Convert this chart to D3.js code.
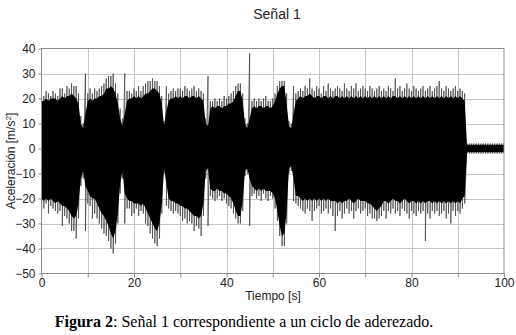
<!DOCTYPE html>
<html><head><meta charset="utf-8">
<script src="https://cdn.jsdelivr.net/npm/d3@7"></script>
<style>
html,body{margin:0;padding:0;background:#fff;}
svg{display:block;}
</style></head>
<body>
<svg id="chart" width="516" height="335"></svg>
<script>
const sampleStep = 0.5;
const coreHi = [
 19,19,20,19,20,20,20,19,20,21, 20,21,21,22,21,20,18,10,8,14,
 19,20,19,20,20,21,21,22,24,24, 25,24,22,18,12,9,14,19,20,20,
 21,20,21,20,21,22,22,23,24,24, 23,22,18,9,15,19,20,20,21,20,
 21,20,21,21,20,21,21,20,21,20, 19,10,9,16,17,16,17,17,16,17,
 17,18,18,19,21,23,23,19,10,8, 12,16,17,16,17,17,16,17,17,16,
 17,19,22,24,25,25,18,9,8,14, 19,20,21,20,21,21,22,21,20,21,
 21,20,21,21,20,21,20,21,21,20, 21,20,21,20,21,20,21,20,21,20,
 21,20,21,20,21,20,21,20,21,20, 21,20,21,21,20,21,20,21,20,21,
 20,21,20,21,20,21,20,21,20,21, 20,21,20,21,20,21,20,21,20,21,
 20,21,20,19,1.5,1.5,1.5,1.5,1.5,1.5, 1.5,1.5,1.5,1.5,1.5,1.5,1.5,1.5,1.5,1.5,
 1.5
];
const peakHi = [
 23,21,23,22,21,23,22,21,24,24, 22,25,24,26,25,25,22,13,10,30,
 22,24,22,24,23,24,25,26,28,29, 29,30,26,22,16,12,30,23,23,22,
 24,23,25,23,25,26,27,27,28,27, 27,25,21,11,25,22,23,24,23,24,
 24,23,25,24,23,24,25,23,24,23, 22,12,29,19,19,20,19,20,19,21,
 20,21,22,23,25,26,26,22,12,10, 38,19,20,19,20,19,20,21,19,19,
 20,22,25,27,27,27,22,11,10,25, 22,23,24,23,25,24,28,24,23,25,
 24,22,25,23,26,24,23,24,25,24, 23,26,24,23,25,24,26,23,24,25,
 24,23,25,24,23,24,25,23,24,23, 25,24,23,28,24,25,23,24,26,24,
 23,25,24,23,24,25,23,24,25,23, 24,25,27,24,23,25,24,23,24,25,
 23,24,23,22,2,2,2,2,2,2, 2,2,2,2,2,2,2,2,2,2,
 2
];
const coreLo = [
 -20,-21,-20,-21,-20,-21,-22,-21,-22,-23, -23,-24,-25,-27,-28,-27,-22,-12,-9,-15,
 -17,-19,-20,-20,-22,-24,-26,-27,-29,-31, -34,-36,-33,-26,-14,-9,-18,-20,-21,-21,
 -22,-22,-22,-23,-22,-24,-26,-28,-30,-32, -33,-30,-22,-8,-14,-20,-21,-21,-22,-22,
 -23,-23,-24,-24,-25,-26,-27,-27,-28,-27, -22,-9,-8,-16,-17,-17,-16,-17,-17,-18,
 -18,-19,-20,-22,-25,-27,-27,-21,-9,-8, -12,-15,-16,-17,-16,-17,-16,-17,-17,-17,
 -18,-20,-25,-31,-35,-34,-25,-8,-7,-12, -19,-19,-20,-21,-20,-21,-20,-21,-20,-21,
 -20,-21,-20,-21,-20,-21,-21,-21,-22,-21, -22,-21,-21,-20,-21,-22,-21,-20,-21,-21,
 -21,-22,-22,-23,-24,-25,-24,-23,-21,-21, -22,-21,-20,-21,-21,-22,-21,-20,-21,-22,
 -21,-21,-22,-21,-22,-21,-22,-21,-21,-22, -21,-22,-21,-22,-21,-22,-21,-22,-21,-22,
 -21,-22,-20,-19,-1.5,-1.5,-1.5,-1.5,-1.5,-1.5, -1.5,-1.5,-1.5,-1.5,-1.5,-1.5,-1.5,-1.5,-1.5,-1.5,
 -1.5
];
const peakLo = [
 -27,-24,-22,-26,-23,-24,-25,-26,-25,-31, -27,-28,-30,-33,-33,-36,-28,-15,-12,-33,
 -22,-23,-28,-26,-28,-30,-32,-34,-35,-37, -40,-42,-38,-30,-18,-12,-30,-24,-24,-27,
 -26,-24,-27,-25,-26,-30,-31,-34,-36,-38, -39,-36,-26,-10,-23,-24,-25,-26,-25,-26,
 -27,-29,-28,-30,-29,-30,-33,-31,-32,-35, -27,-12,-31,-19,-20,-21,-20,-19,-21,-20,
 -22,-23,-24,-26,-28,-30,-30,-25,-11,-10, -31,-19,-18,-20,-19,-21,-18,-20,-21,-19,
 -20,-24,-29,-35,-39,-39,-30,-10,-9,-21, -22,-23,-24,-25,-26,-24,-25,-29,-25,-24,
 -23,-26,-25,-24,-26,-24,-27,-33,-27,-25, -28,-26,-24,-26,-25,-28,-25,-24,-26,-25,
 -24,-27,-26,-28,-28,-29,-28,-27,-25,-28, -25,-26,-24,-26,-25,-27,-24,-25,-26,-28,
 -25,-26,-27,-25,-26,-25,-37,-26,-28,-25, -26,-25,-27,-26,-25,-28,-26,-30,-25,-27,
 -25,-26,-24,-22,-2,-2,-2,-2,-2,-2, -2,-2,-2,-2,-2,-2,-2,-2,-2,-2,
 -2
];
const xTicks = [0,10,20,30,40,50,60,70,80,90,100];
const xTickLabels = [0,20,40,60,80,100];
const yTicks = [40,30,20,10,0,-10,-20,-30,-40,-50];
const titleText = "Señal 1";
const xLabel = "Tiempo [s]";
const yLabel = "Aceleración [m/s";
const captionBold = "Figura 2";
const captionRest = ": Señal 1 correspondiente a un ciclo de aderezado.";

const samples = coreHi.map((h, i) => ({
  t: i * sampleStep, hi: h, lo: coreLo[i], pHi: peakHi[i], pLo: peakLo[i]
}));

// ---- layout ----
const svg = d3.select("#chart");
const m = {l: 41.5, r: 504, t: 48.5, b: 273.5};
const x = d3.scaleLinear().domain([0, 100]).range([m.l, m.r]);
const y = d3.scaleLinear().domain([-50, 40]).range([m.b, m.t]);

svg.append("defs").append("clipPath").attr("id", "clip")
  .append("rect").attr("x", m.l).attr("y", m.t).attr("width", m.r - m.l).attr("height", m.b - m.t);

// grid
const grid = svg.append("g");
grid.selectAll("line.v").data(xTicks.slice(1, -1)).join("line")
  .attr("x1", d => Math.round(x(d)) + 0.5).attr("x2", d => Math.round(x(d)) + 0.5)
  .attr("y1", m.t).attr("y2", m.b).attr("stroke", "#c4c4c4").attr("stroke-width", 1);
grid.selectAll("line.h").data(yTicks.slice(1, -1)).join("line")
  .attr("y1", d => Math.round(y(d)) + 0.5).attr("y2", d => Math.round(y(d)) + 0.5)
  .attr("x1", m.l).attr("x2", m.r).attr("stroke", "#c4c4c4").attr("stroke-width", 1);

// signal
const sig = svg.append("g").attr("clip-path", "url(#clip)");
const zig = [];
samples.forEach(s => { zig.push([s.t, s.pHi]); zig.push([s.t, s.pLo]); });
sig.append("path")
  .attr("d", d3.line().x(d => x(d[0])).y(d => y(d[1]))(zig))
  .attr("fill", "none").attr("stroke", "#444").attr("stroke-width", 0.75);
sig.append("path")
  .attr("d", d3.area().x(d => x(d.t)).y0(d => y(d.lo)).y1(d => y(d.hi))(samples))
  .attr("fill", "#000");

// frame
svg.append("rect").attr("x", m.l).attr("y", m.t).attr("width", m.r - m.l).attr("height", m.b - m.t)
  .attr("fill", "none").attr("stroke", "#8c8c8c").attr("stroke-width", 1);

// axes
const fontSans = "Arial, 'Liberation Sans', sans-serif";
const yAxis = svg.append("g").attr("transform", `translate(${m.l},0)`)
  .call(d3.axisLeft(y).tickValues(yTicks).tickSize(3).tickPadding(3).tickFormat(d3.format("d")));
const xAxis = svg.append("g").attr("transform", `translate(0,${m.b})`)
  .call(d3.axisBottom(x).tickValues(xTicks).tickSize(4).tickPadding(1)
    .tickFormat(d => xTickLabels.includes(d) ? d : ""));
[xAxis, yAxis].forEach(a => {
  a.select(".domain").remove();
  a.selectAll(".tick line").attr("stroke", "#8c8c8c");
  a.selectAll("text").attr("fill", "#222").style("font-family", fontSans).style("font-size", "12px");
});

// titles
svg.append("text").attr("x", 277).attr("y", 19).attr("text-anchor", "middle")
  .style("font-family", fontSans).style("font-size", "14px").attr("fill", "#222").text(titleText);
svg.append("text").attr("x", 273).attr("y", 300).attr("text-anchor", "middle")
  .style("font-family", fontSans).style("font-size", "12px").attr("fill", "#222").text(xLabel);
const yl = svg.append("text").attr("transform", "translate(15,161) rotate(-90)").attr("text-anchor", "middle")
  .style("font-family", fontSans).style("font-size", "12px").attr("fill", "#222");
yl.append("tspan").text(yLabel);
yl.append("tspan").attr("dy", -4).style("font-size", "8px").text("2");
yl.append("tspan").attr("dy", 4).text("]");

const cap = svg.append("text").attr("x", 244).attr("y", 327).attr("text-anchor", "middle")
  .style("font-family", "'Liberation Serif', 'Times New Roman', serif").style("font-size", "16px").attr("fill", "#000");
cap.append("tspan").style("font-weight", "bold").text(captionBold);
cap.append("tspan").text(captionRest);
</script>
</body></html>
